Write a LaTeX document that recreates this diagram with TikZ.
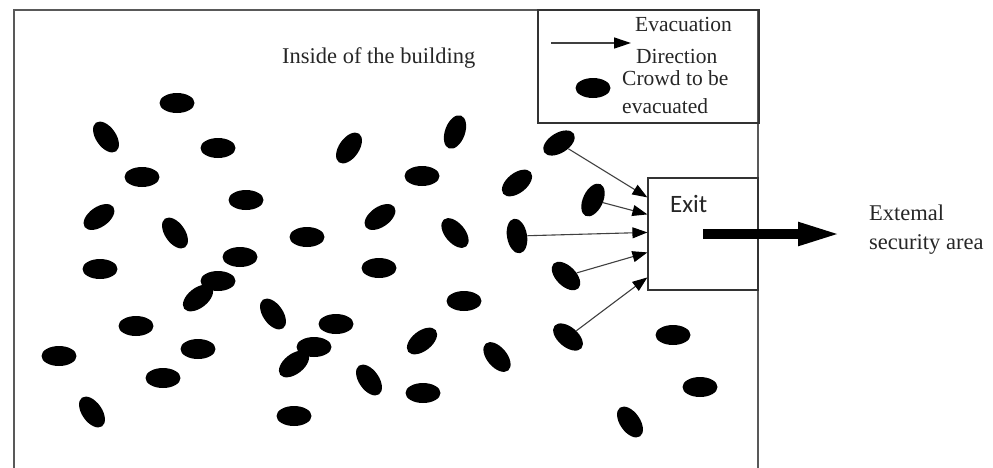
\documentclass[tikz,border=0pt]{standalone}
\usepackage{fontspec}
\setmainfont{Liberation Serif}
\newfontfamily\exitfont{Carlito}
\usetikzlibrary{arrows.meta,shapes.geometric,calc}
\begin{document}
\begin{tikzpicture}[x=1pt,y=-1pt,
  crowd/.style={ellipse, fill=black, inner sep=0pt, minimum width=35pt, minimum height=20pt},
  wall/.style={line width=1.5pt, draw=black!65},
  framebox/.style={draw=black!80, line width=1.2pt, inner sep=0pt},
  lbl/.style={inner sep=0pt, anchor=base west, text=black!85, font=\fontsize{22.5}{27}\selectfont},
  leglbl/.style={lbl, font=\fontsize{21.5}{26}\selectfont},
  evac/.style={draw=black!75, line width=1.1pt, -{Triangle[length=15pt,width=11pt,color=black]}},
  legarrow/.style={draw=black!75, line width=1.3pt, -{Triangle[length=17pt,width=11pt,color=black]}},
  bigarrow/.style={draw=black, line width=10pt, -{Triangle[length=44pt,width=21pt]}}
]
\useasboundingbox (0,0) rectangle (993,467);

% building walls
\draw[wall] (14,470) -- (14,10) -- (758,10) -- (758,470);

% legend
\node[framebox, minimum width=221pt, minimum height=113pt] (legend) at (648.5,66.5) {};
\coordinate (la) at (551,43);
\coordinate (lb) at (631,43);
\draw[legarrow] (la) -- (lb);
\node[leglbl] (ev1) at (635,31) {Evacuation};
\node[leglbl] (ev2) at (636,63) {Direction};
\node[crowd] (legcrowd) at (593,88) {};
\node[leglbl] (cr1) at (622,85) {Crowd to be};
\node[leglbl] (cr2) at (622,113) {evacuated};

% title
\node[lbl] (inside) at (282,63) {Inside of the building};

% exit
\node[framebox, minimum width=110pt, minimum height=112pt] (exit) at (703,234) {};
\node[lbl, font=\exitfont\fontsize{25}{30}\selectfont] (exittext) at (670,212) {Exit};

% external area
\node[lbl] (ext1) at (869,220) {Extemal};
\node[lbl] (ext2) at (869,249) {security area};
\coordinate (safe) at (842,234);

% crowd
\node[crowd] (c1) at (177,103) {};
\node[crowd, rotate=-55] (c2) at (106,137) {};
\node[crowd] (c3) at (218,148) {};
\node[crowd, rotate=55] (c4) at (349,148) {};
\node[crowd, rotate=70] (c5) at (455,132) {};
\node[crowd] (c6) at (142,177) {};
\node[crowd] (c7) at (422,176) {};
\node[crowd] (c8) at (246,200) {};
\node[crowd, rotate=35] (c9) at (99,217) {};
\node[crowd, rotate=35] (c10) at (380,217) {};
\node[crowd, rotate=-55] (c11) at (175,233) {};
\node[crowd] (c12) at (307,237) {};
\node[crowd, rotate=-50] (c13) at (455,233) {};
\node[crowd] (c14) at (240,257) {};
\node[crowd] (c15) at (100,269) {};
\node[crowd] (c16) at (379,268) {};
\node[crowd] (c17) at (218,281) {};
\node[crowd, rotate=38] (c18) at (198,298) {};
\node[crowd] (c19) at (464,301) {};
\node[crowd, rotate=-55] (c20) at (273,314) {};
\node[crowd] (c21) at (136,326) {};
\node[crowd] (c22) at (336,324) {};
\node[crowd, rotate=38] (c23) at (422,341) {};
\node[crowd] (c24) at (314,347) {};
\node[crowd] (c25) at (59,356) {};
\node[crowd] (c26) at (198,349) {};
\node[crowd, rotate=38] (c27) at (294,364) {};
\node[crowd, rotate=-50] (c28) at (497,357) {};
\node[crowd] (c29) at (163,378) {};
\node[crowd, rotate=-55] (c30) at (369,380) {};
\node[crowd] (c31) at (423,393) {};
\node[crowd, rotate=-55] (c32) at (92,412) {};
\node[crowd] (c33) at (294,416) {};
\node[crowd, rotate=32] (c34) at (559,143) {};
\node[crowd, rotate=38] (c35) at (517,183) {};
\node[crowd, rotate=65] (c36) at (593,200) {};
\node[crowd, rotate=-80] (c37) at (517,236) {};
\node[crowd, rotate=-45] (c38) at (566,276) {};
\node[crowd, rotate=-40] (c39) at (568,337) {};
\node[crowd] (c40) at (673,335) {};
\node[crowd] (c41) at (700,387) {};
\node[crowd, rotate=-55] (c42) at (630,422) {};

% evacuation arrows
\draw[evac] (c34) -- ($(exit.north west)+(0,20)$);
\draw[evac] (c36) -- ($(exit.north west)+(0,37)$);
\draw[evac] (c37) -- ($(exit.north west)+(0,55)$);
\draw[evac] (c38) -- ($(exit.north west)+(0,75)$);
\draw[evac] (c39) -- ($(exit.north west)+(0,100)$);

% big arrow to external area
\draw[bigarrow] (exit.center) -- (safe);
\end{tikzpicture}
\end{document}
